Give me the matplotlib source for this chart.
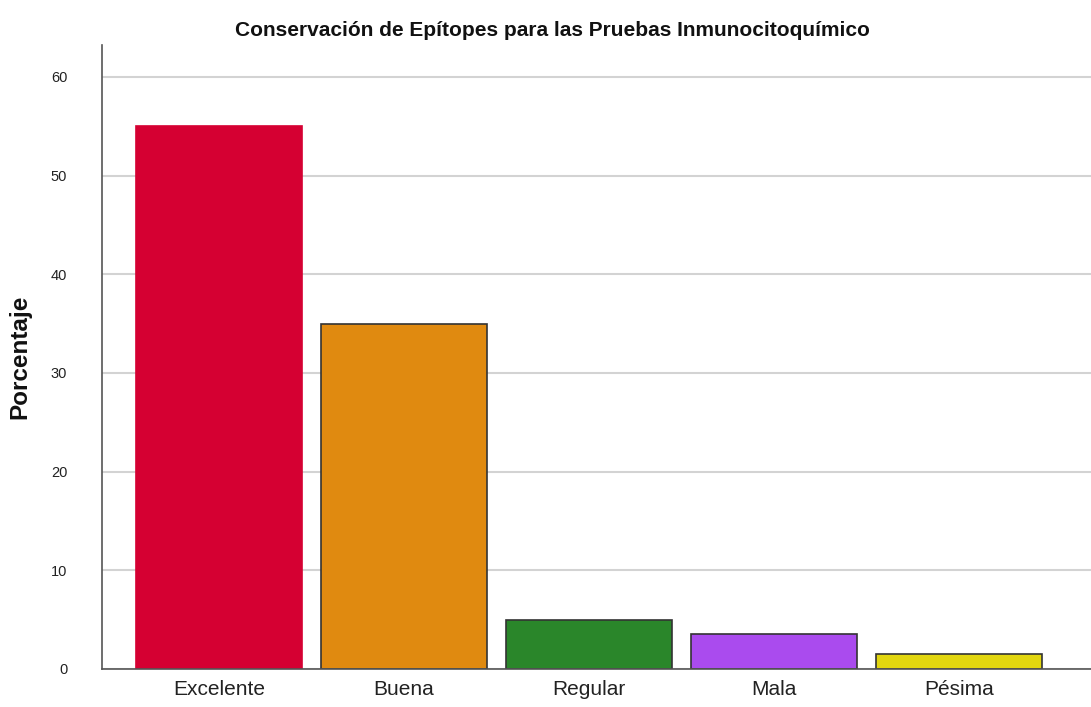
import matplotlib
matplotlib.use("Agg")
import matplotlib.pyplot as plt

categories = ["Excelente", "Buena", "Regular", "Mala", "Pésima"]
percentages = [55, 35, 5, 3.5, 1.5]
bar_colors = ["#D50032", "#E08A10", "#2A862A", "#AA4BEE", "#E2D60F"]
edge_colors = ["#D50032", "#333333", "#333333", "#333333", "#333333"]
y_ticks = [0, 10, 20, 30, 40, 50, 60]

plt.rcParams["font.family"] = ["Liberation Sans", "DejaVu Sans"]

fig = plt.figure(figsize=(10.91, 7.07), dpi=100)
ax = fig.add_axes([102 / 1091, 1 - 669 / 707, 1 - 102 / 1091, (669 - 45) / 707])

x = list(range(len(categories)))
ax.bar(x, percentages, width=0.897, color=bar_colors, edgecolor=edge_colors,
       linewidth=1.2, zorder=3)

ax.set_xlim(-0.632, 4.714)
ax.set_ylim(0, 63.24)
ax.set_yticks(y_ticks)
ax.set_xticks(x)
ax.set_xticklabels(categories, fontsize=15, color="#222222")
ax.tick_params(axis="y", length=0, pad=25, labelsize=10.5, labelcolor="#222222")
ax.tick_params(axis="x", length=0, pad=8)

ax.grid(axis="y", color="#d3d3d3", linewidth=1.5, zorder=0)
ax.set_axisbelow(True)
for side in ("top", "right"):
    ax.spines[side].set_visible(False)
for side in ("left", "bottom"):
    ax.spines[side].set_color("#555555")
    ax.spines[side].set_linewidth(1.2)
    ax.spines[side].set_zorder(4)

fig.text(20 / 1091, 1 - 357 / 707, "Porcentaje", rotation=90, fontsize=17.5,
         fontweight="bold", ha="center", va="center", color="#111111")
fig.text(552 / 1091, 1 - 31 / 707,
         "Conservación de Epítopes para las Pruebas Inmunocitoquímico",
         fontsize=15, fontweight="bold", ha="center", va="center", color="#111111")

fig.savefig("out.png", dpi=100)
